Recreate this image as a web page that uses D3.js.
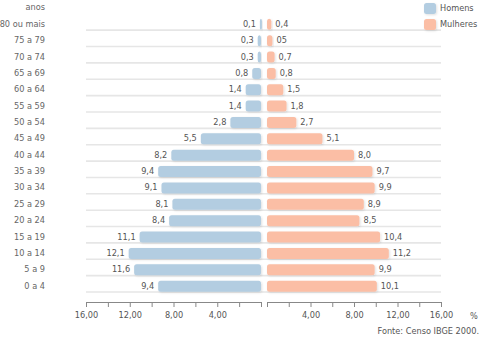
<!DOCTYPE html>
<html>
<head>
<meta charset="utf-8">
<script src="https://cdn.jsdelivr.net/npm/d3@7"></script>
<style>
  html, body { margin: 0; padding: 0; background: #fff; }
  svg { display: block; font-family: "DejaVu Sans", Verdana, sans-serif; }
</style>
</head>
<body>
<svg id="chart" width="480" height="340"></svg>
<script>
const categories = ["80 ou mais","75 a 79","70 a 74","65 a 69","60 a 64","55 a 59","50 a 54","45 a 49","40 a 44","35 a 39","30 a 34","25 a 29","20 a 24","15 a 19","10 a 14","5 a 9","0 a 4"];
const homens   = [0.1,0.3,0.3,0.8,1.4,1.4,2.8,5.5,8.2,9.4,9.1,8.1,8.4,11.1,12.1,11.6,9.4];
const mulheres = [0.4,0.5,0.7,0.8,1.5,1.8,2.7,5.1,8.0,9.7,9.9,8.9,8.5,10.4,11.2,9.9,10.1];
const homensLabels   = ["0,1","0,3","0,3","0,8","1,4","1,4","2,8","5,5","8,2","9,4","9,1","8,1","8,4","11,1","12,1","11,6","9,4"];
const mulheresLabels = ["0,4","05","0,7","0,8","1,5","1,8","2,7","5,1","8,0","9,7","9,9","8,9","8,5","10,4","11,2","9,9","10,1"];
const tickValues = [0,2,4,6,8,10,12,14,16];
const tickLabels = {4:"4,00", 8:"8,00", 12:"12,00", 16:"16,00"};
const seriesNames = ["Homens","Mulheres"];

const colorH = "#b3cde1", colorM = "#fbbea5";
const svg = d3.select("#chart");

const y = d3.scaleBand().domain(categories).range([13.8, 292]).paddingInner(0).paddingOuter(0);
const xL = d3.scaleLinear().domain([0,16]).range([261, 86]);
const xR = d3.scaleLinear().domain([0,16]).range([267, 441]);

const defs = svg.append("defs");
const f = defs.append("filter").attr("id","sh").attr("x","-20%").attr("y","-30%").attr("width","140%").attr("height","160%");
f.append("feDropShadow").attr("dx",1).attr("dy",1).attr("stdDeviation",0.8).attr("flood-color","#000").attr("flood-opacity",0.12);

// gridlines
svg.append("g").selectAll("line").data(categories).join("line")
  .attr("x1", 86).attr("x2", 441)
  .attr("y1", d => y(d) + y.bandwidth()).attr("y2", d => y(d) + y.bandwidth())
  .attr("stroke", "#e6e6e6").attr("stroke-width", 1.6);

// category labels
svg.append("g").selectAll("text").data(categories).join("text")
  .attr("x", 45).attr("y", d => y(d) + 10.5)
  .attr("text-anchor","end").attr("dominant-baseline","middle")
  .attr("font-size", 8.2).attr("fill", "#666").text(d => d);

svg.append("text").attr("x",45).attr("y",7).attr("text-anchor","end").attr("dominant-baseline","middle")
  .attr("font-size",8.2).attr("fill","#666").text("anos");

const barH = 11, barOff = 5;
// men bars
svg.append("g").selectAll("rect").data(homens).join("rect")
  .attr("x", d => xL(d)).attr("width", d => Math.max(2, xL(0) - xL(d)))
  .attr("y", (d,i) => y(categories[i]) + barOff).attr("height", barH)
  .attr("rx", 2.5).attr("fill", colorH).attr("filter","url(#sh)");
svg.append("g").selectAll("text").data(homens).join("text")
  .attr("x", d => xL(d) - 4).attr("y", (d,i) => y(categories[i]) + barOff + barH/2)
  .attr("text-anchor","end").attr("dominant-baseline","middle")
  .attr("font-size", 8.2).attr("fill","#555").text((d,i) => homensLabels[i]);

// women bars
svg.append("g").selectAll("rect").data(mulheres).join("rect")
  .attr("x", xR(0)).attr("width", d => Math.max(2, xR(d) - xR(0)))
  .attr("y", (d,i) => y(categories[i]) + barOff).attr("height", barH)
  .attr("rx", 2.5).attr("fill", colorM).attr("filter","url(#sh)");
svg.append("g").selectAll("text").data(mulheres).join("text")
  .attr("x", d => xR(d) + 4).attr("y", (d,i) => y(categories[i]) + barOff + barH/2)
  .attr("text-anchor","start").attr("dominant-baseline","middle")
  .attr("font-size", 8.2).attr("fill","#555").text((d,i) => mulheresLabels[i]);

// axes
function styleAxis(g){
  g.select(".domain").attr("stroke","#888");
  g.selectAll(".tick line").attr("stroke","#888");
  g.selectAll(".tick text").attr("fill","#555").attr("font-size",8.2).attr("font-family","DejaVu Sans, Verdana, sans-serif");
}
const fmt = d => tickLabels[d] || "";
svg.append("g").attr("transform","translate(0,302)")
  .call(d3.axisBottom(xL).tickValues(tickValues).tickFormat(fmt).tickSize(5).tickSizeOuter(0).tickPadding(5))
  .call(styleAxis);
svg.append("g").attr("transform","translate(0,302)")
  .call(d3.axisBottom(xR).tickValues(tickValues).tickFormat(fmt).tickSize(5).tickSizeOuter(0).tickPadding(5))
  .call(styleAxis);

svg.append("text").attr("x",474).attr("y",316).attr("text-anchor","middle").attr("dominant-baseline","middle")
  .attr("font-size",8.2).attr("fill","#555").text("%");
svg.append("text").attr("x",479).attr("y",331).attr("text-anchor","end").attr("dominant-baseline","middle")
  .attr("font-size",8.2).attr("fill","#555").text("Fonte: Censo IBGE 2000.");

// legend
const leg = svg.append("g").selectAll("g").data(seriesNames).join("g")
  .attr("transform", (d,i) => `translate(424, ${3 + i*16})`);
leg.append("rect").attr("width",12).attr("height",11).attr("rx",2.5)
  .attr("fill", (d,i) => i === 0 ? colorH : colorM).attr("filter","url(#sh)");
leg.append("text").attr("x",16).attr("y",5.5).attr("dominant-baseline","middle")
  .attr("font-size",8.2).attr("fill","#555").text(d => d);
</script>
</body>
</html>
